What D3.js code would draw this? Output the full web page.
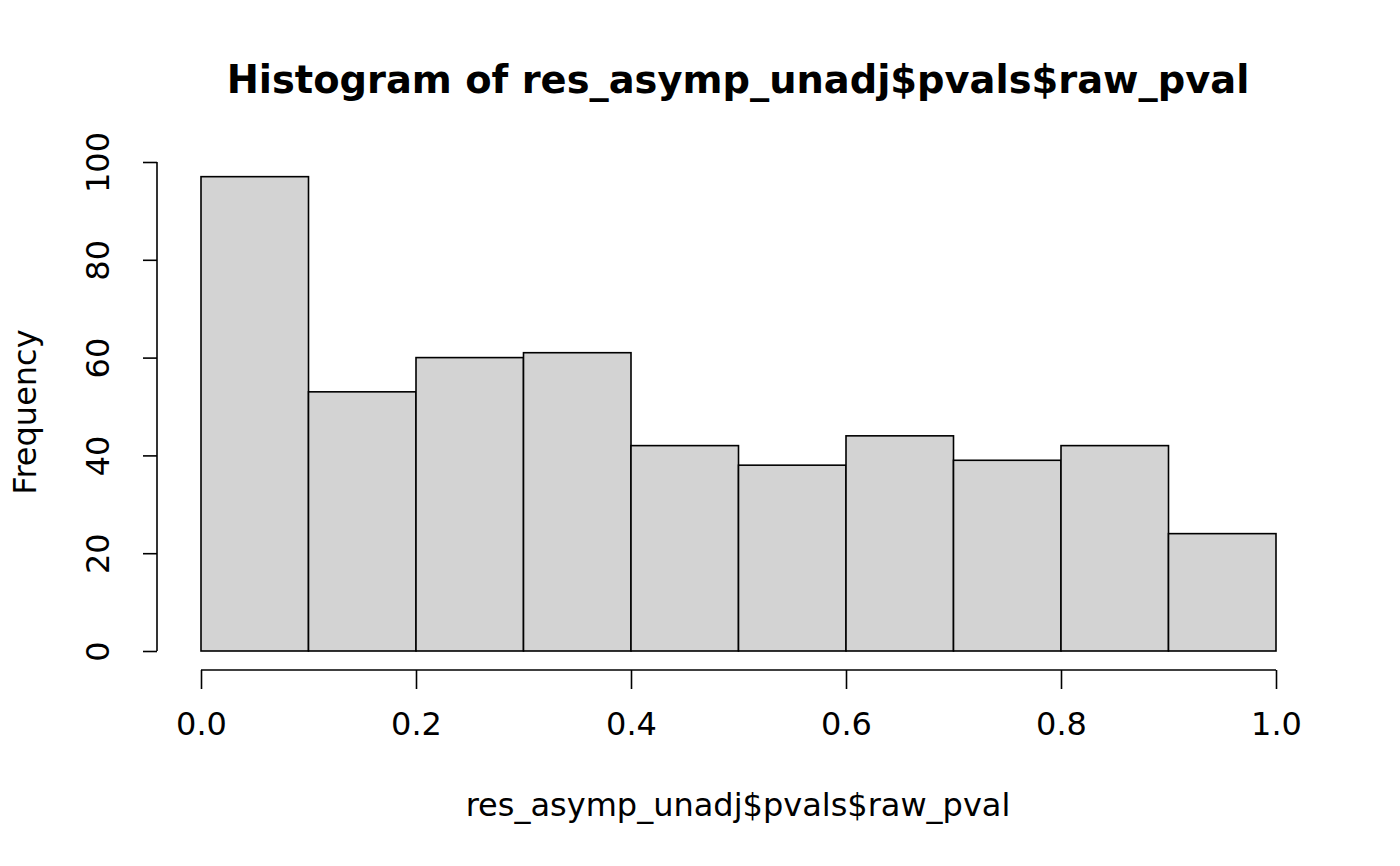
<!DOCTYPE html>
<html>
<head>
<meta charset="utf-8">
<script src="https://cdn.jsdelivr.net/npm/d3@7"></script>
<style>
  body { margin: 0; background: #fff; }
  text { font-family: "DejaVu Sans", sans-serif; fill: #000; }
</style>
</head>
<body>
<div id="chart"></div>
<script>
// histogram breaks and counts
const binEdges = [0, 0.1, 0.2, 0.3, 0.4, 0.5, 0.6, 0.7, 0.8, 0.9, 1.0]
const counts = [97, 53, 60, 61, 42, 38, 44, 39, 42, 24]
const xTicks = [0, 0.2, 0.4, 0.6, 0.8, 1.0]
const yTicks = [0, 20, 40, 60, 80, 100]
const title = "Histogram of res_asymp_unadj$pvals$raw_pval"
const xLabel = "res_asymp_unadj$pvals$raw_pval"
const yLabel = "Frequency"

const svgWidth = 1400
const svgHeight = 866
const fs = 32

const svg = d3.select("#chart").append("svg")
    .attr("width", svgWidth).attr("height", svgHeight)

const x = d3.scaleLinear().domain([0, 1]).range([201, 1276])
const y = d3.scaleLinear().domain([0, 100]).range([651, 162])

const bins = counts.map((c, i) => ({x0: binEdges[i], x1: binEdges[i + 1], count: c}))

svg.append("g").selectAll("rect").data(bins).enter().append("rect")
    .attr("x", d => x(d.x0))
    .attr("y", d => y(d.count))
    .attr("width", d => x(d.x1) - x(d.x0))
    .attr("height", d => y(0) - y(d.count))
    .attr("fill", "#d3d3d3")
    .attr("stroke", "#000")
    .attr("stroke-width", 1.6)

// x axis, R-style, offset below the plot
const xAxis = d3.axisBottom(x).tickValues(xTicks).tickFormat(d3.format(".1f"))
    .tickSizeOuter(0).tickSize(19).tickPadding(23)
const gx = svg.append("g").attr("transform", "translate(0,670)").call(xAxis)
gx.select(".domain").attr("d", `M${x(0)},0H${x(1)}`).attr("stroke-width", 1.6)
gx.selectAll(".tick line").attr("stroke-width", 1.6)
gx.selectAll("text").attr("font-size", fs).attr("font-family", "DejaVu Sans")

// y axis with rotated labels
const yAxis = d3.axisLeft(y).tickValues(yTicks).tickSizeOuter(0).tickSize(14).tickPadding(0)
const gy = svg.append("g").attr("transform", "translate(157,0)").call(yAxis)
gy.select(".domain").attr("d", `M0,${y(0)}V${y(100)}`).attr("stroke-width", 1.6)
gy.selectAll(".tick line").attr("stroke-width", 1.6)
gy.selectAll("text")
    .attr("font-size", fs).attr("font-family", "DejaVu Sans")
    .attr("x", null).attr("dy", null)
    .attr("text-anchor", "middle")
    .attr("transform", "translate(-57,0) rotate(-90)")
    .attr("y", 0).attr("dominant-baseline", "middle")

svg.append("text")
    .attr("x", 738).attr("y", 93)
    .attr("text-anchor", "middle")
    .attr("font-size", fs * 1.2).attr("font-weight", "bold")
    .text(title)

svg.append("text")
    .attr("x", 738).attr("y", 816)
    .attr("text-anchor", "middle")
    .attr("font-size", fs)
    .text(xLabel)

svg.append("text")
    .attr("transform", "translate(36,412) rotate(-90)")
    .attr("text-anchor", "middle")
    .attr("font-size", fs)
    .text(yLabel)
</script>
</body>
</html>
